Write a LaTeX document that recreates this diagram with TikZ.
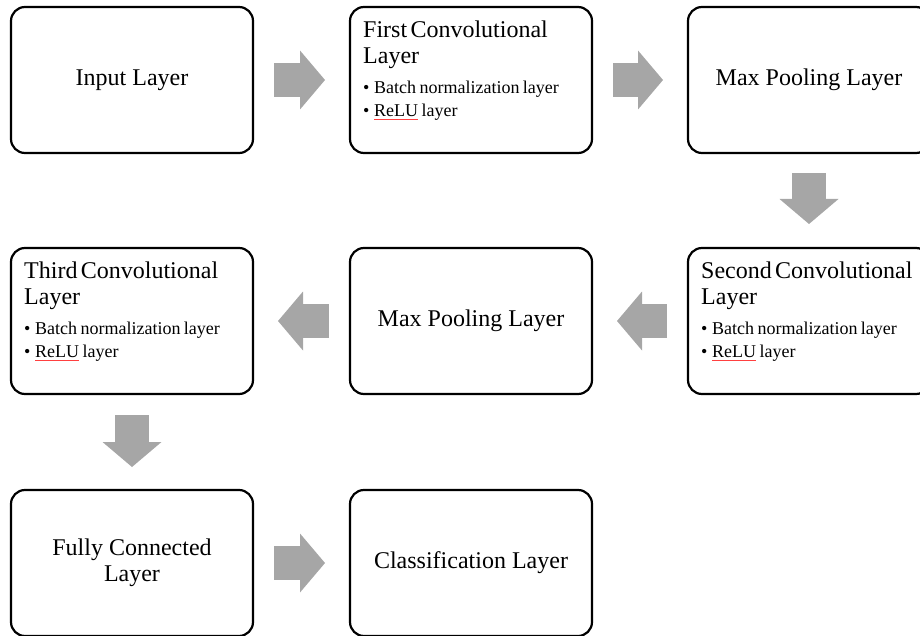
\documentclass[tikz,border=0pt]{standalone}
\usepackage{fontspec}
\setmainfont{Liberation Serif}
\usepackage{xcolor}
\usetikzlibrary{arrows.meta,positioning}
\definecolor{arrowgray}{RGB}{166,166,166}
\newcommand{\spellred}[1]{\sbox0{#1}\rlap{\color{red!75}\rule[-3pt]{\wd0}{0.6pt}}#1}
\newcommand{\bul}{\makebox[11pt][l]{\textbullet}}
\newcommand{\titlefont}{\fontsize{24}{26}\selectfont}
\newcommand{\listfont}{\fontsize{18}{23}\selectfont}

\begin{document}
\begin{tikzpicture}[x=1pt,y=1pt,
    layer/.style={draw,line width=2.2pt,rounded corners=14pt,minimum width=242pt,minimum height=146pt,outer sep=0pt,align=center,font=\titlefont},
    listtext/.style={anchor=north west,inner sep=0pt,text width=228pt,align=left},
    blockarrow/.style={arrowgray,line width=34pt,-{Triangle[length=25pt,width=59pt,line width=0pt]}}]
    \useasboundingbox (0,0) rectangle (920,-636);

    % boxes
    \node[layer] (input) at (132,-80)  {Input Layer};
    \node[layer] (conv1) at (471,-80)  {};
    \node[layer] (pool1) at (809,-80)  {Max Pooling Layer};
    \node[layer] (conv2) at (809,-321) {};
    \node[layer] (pool2) at (471,-321) {Max Pooling Layer};
    \node[layer] (conv3) at (132,-321) {};
    \node[layer] (fc)    at (132,-563) {Fully Connected\\Layer};
    \node[layer] (cls)   at (471,-563) {Classification Layer};

    % texts of the convolutional boxes
    \node[listtext] (conv1txt) at ([shift={(13,-13.5)}]conv1.north west)
        {{\titlefont First Convolutional\\Layer\par}\vspace{7pt}
         {\listfont\bul Batch normalization layer\\\bul\spellred{ReLU} layer\par}};
    \node[listtext] (conv2txt) at ([shift={(13,-13.5)}]conv2.north west)
        {{\titlefont Second Convolutional\\Layer\par}\vspace{7pt}
         {\listfont\bul Batch normalization layer\\\bul\spellred{ReLU} layer\par}};
    \node[listtext] (conv3txt) at ([shift={(13,-13.5)}]conv3.north west)
        {{\titlefont Third Convolutional\\Layer\par}\vspace{7pt}
         {\listfont\bul Batch normalization layer\\\bul\spellred{ReLU} layer\par}};

    % arrows
    \draw[blockarrow] ([xshift=21pt]input.east)  -- ([xshift=-25pt]conv1.west);
    \draw[blockarrow] ([xshift=21pt]conv1.east)  -- ([xshift=-25pt]pool1.west);
    \draw[blockarrow] ([yshift=-20pt]pool1.south) -- ([yshift=24pt]conv2.north);
    \draw[blockarrow] ([xshift=-21pt]conv2.west) -- ([xshift=25pt]pool2.east);
    \draw[blockarrow] ([xshift=-21pt]pool2.west) -- ([xshift=25pt]conv3.east);
    \draw[blockarrow] ([yshift=-21pt]conv3.south) -- ([yshift=23pt]fc.north);
    \draw[blockarrow] ([xshift=21pt]fc.east)     -- ([xshift=-25pt]cls.west);
\end{tikzpicture}
\end{document}
